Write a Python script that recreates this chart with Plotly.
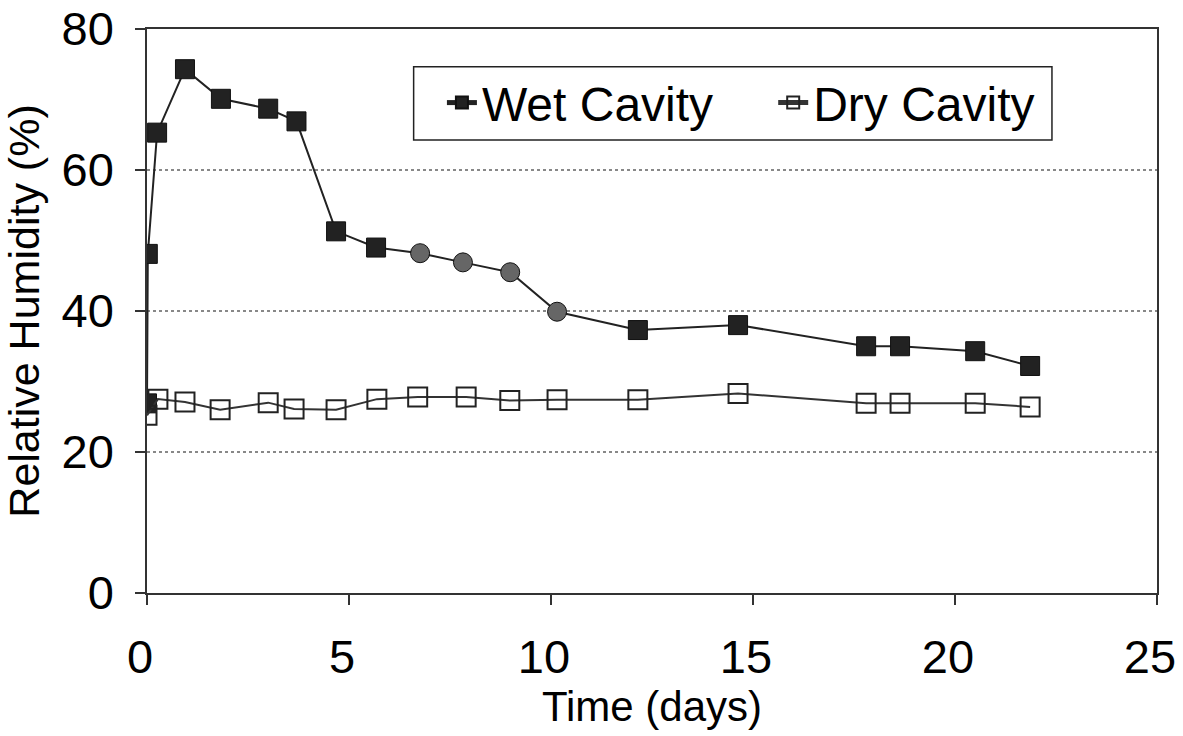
import plotly.graph_objects as go

# Data
wet_days = [0.0, 0.02, 0.25, 0.94, 1.83, 3.0, 3.7, 4.68, 5.67, 6.76, 7.82, 8.99, 10.15, 12.15, 14.63, 17.8, 18.64, 20.5, 21.86]
wet_rh = [26.9, 48.1, 65.3, 74.3, 70.1, 68.7, 66.9, 51.3, 49.0, 48.2, 46.9, 45.5, 39.9, 37.3, 38.0, 35.0, 35.0, 34.3, 32.2]

dry_days = [0.0, 0.27, 0.94, 1.81, 3.0, 3.64, 4.68, 5.69, 6.7, 7.9, 8.98, 10.15, 12.15, 14.63, 17.8, 18.64, 20.5, 21.86]
dry_rh = [25.2, 27.5, 27.1, 26.0, 27.0, 26.1, 26.0, 27.5, 27.8, 27.8, 27.3, 27.4, 27.4, 28.3, 26.9, 26.9, 26.9, 26.4]

x_ticks = [0, 5, 10, 15, 20, 25]
y_ticks = [0, 20, 40, 60, 80]

# marker appearance per wet point (scan shows some points as grey blobs)
wet_colors = ["#222222"] * 9 + ["#666666"] * 4 + ["#222222"] * 6
wet_symbols = ["square"] * 9 + ["circle"] * 4 + ["square"] * 6

FONT = "Liberation Sans, Arial, sans-serif"
LEG_FONT = dict(size=48, family=FONT, color="black")

fig = go.Figure()
fig.add_trace(go.Scatter(
    x=wet_days, y=wet_rh, mode="lines+markers", name="Wet Cavity",
    line=dict(color="#222222", width=2),
    marker=dict(symbol=wet_symbols, size=19, color=wet_colors,
                line=dict(color="#111111", width=1)),
    legend="legend",
))
fig.add_trace(go.Scatter(
    x=dry_days, y=dry_rh, mode="lines+markers", name="Dry Cavity",
    line=dict(color="#333333", width=2),
    marker=dict(symbol="square-open", size=19, color="#222222",
                line=dict(width=2)),
    legend="legend2",
))

# legend frame
fig.add_shape(type="rect", xref="paper", yref="paper",
              x0=0.264, x1=0.896, y0=0.803, y1=0.933,
              line=dict(color="#222222", width=1.5), fillcolor="white",
              layer="above")

fig.update_layout(
    width=1183, height=736,
    paper_bgcolor="white", plot_bgcolor="white",
    margin=dict(l=147, r=26, t=29, b=143),
    font=dict(family=FONT, color="black"),
    showlegend=True,
    legend=dict(x=0.292, y=0.869, xanchor="left", yanchor="middle",
                bgcolor="rgba(0,0,0,0)", borderwidth=0, font=LEG_FONT,
                itemsizing="constant"),
    legend2=dict(x=0.620, y=0.869, xanchor="left", yanchor="middle",
                 bgcolor="rgba(0,0,0,0)", borderwidth=0, font=LEG_FONT,
                 itemsizing="constant"),
)

fig.update_xaxes(
    range=[0, 25], tickvals=x_ticks, ticktext=[str(v) for v in x_ticks],
    showline=True, linecolor="#333333", linewidth=1.5, mirror=True,
    ticks="outside", ticklen=10, tickcolor="#333333", tickwidth=1.5,
    ticklabelstandoff=12, ticklabelshift=-7, ticklabeloverflow="allow",
    showgrid=False, zeroline=False,
    tickfont=dict(size=47, family=FONT),
    title=dict(text="Time (days)", font=dict(size=42, family=FONT), standoff=0),
    automargin=False,
)
fig.update_yaxes(
    range=[0, 80], tickvals=y_ticks, ticktext=[str(v) for v in y_ticks],
    showline=True, linecolor="#333333", linewidth=1.5, mirror=True,
    ticks="outside", ticklen=10, tickcolor="#333333", tickwidth=1.5,
    ticklabelstandoff=12, ticklabeloverflow="allow",
    showgrid=True, gridcolor="#888888", griddash="dot", gridwidth=1.5,
    zeroline=False,
    tickfont=dict(size=47, family=FONT),
    title=dict(text="Relative Humidity (%)", font=dict(size=43, family=FONT), standoff=11),
    automargin=False,
)

fig.write_html(
    "out.html",
    config={"displayModeBar": False},
    post_script="document.body.style.margin='0';document.body.style.overflow='hidden';",
)
